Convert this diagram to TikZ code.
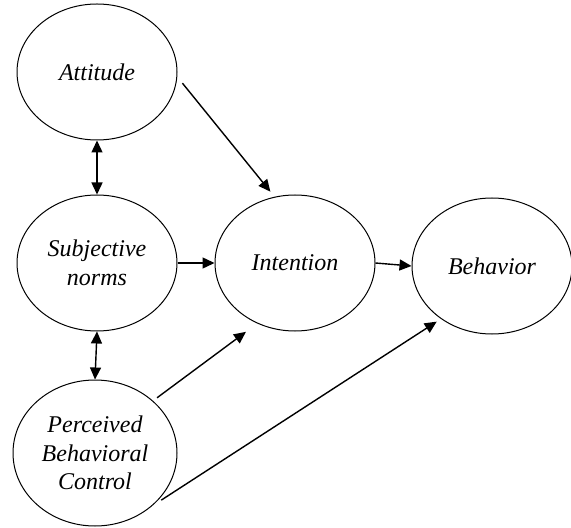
\documentclass[tikz,border=0pt]{standalone}
\usepackage{fontspec}
\setmainfont{Liberation Serif}
\usetikzlibrary{arrows.meta,shapes.geometric}

\begin{document}
\begin{tikzpicture}[x=0.5pt,y=-0.5pt,>={Triangle[length=6pt,width=5.5pt]},
  construct/.style={draw,ellipse,line width=0.5pt,inner sep=0pt,minimum width=80pt,minimum height=68pt,align=center,font=\fontsize{12}{14.3}\selectfont\itshape},
  link/.style={->,line width=0.7pt}]
\useasboundingbox (0,0) rectangle (571,528);
\node[construct] (att) at (97,72) {Attitude};
\node[construct] (subj) at (97,263) {Subjective\\norms};
\node[construct,minimum width=82pt,minimum height=73pt] (pbc) at (95,453) {Perceived\\Behavioral\\Control};
\node[construct] (int) at (295,263) {Intention};
\node[construct] (beh) at (492,266) {Behavior};
\draw[link] ([shift={(3pt,0)}]att.-8) -- ([shift={(-1pt,2.8pt)}]int.109);
\draw[link,<->] (att.south) -- (subj.north);
\draw[link,<->] (subj.south) -- (pbc.north);
\draw[link] (subj.east) -- (int.west);
\draw[link] (int.east) -- (beh.west);
\draw[link,shorten <=2.5pt,shorten >=7pt] (pbc.42) -- (int.238);
\draw[link,shorten <=5.5pt,shorten >=2.5pt] (pbc.-43) -- (beh.226);
\end{tikzpicture}
\end{document}
